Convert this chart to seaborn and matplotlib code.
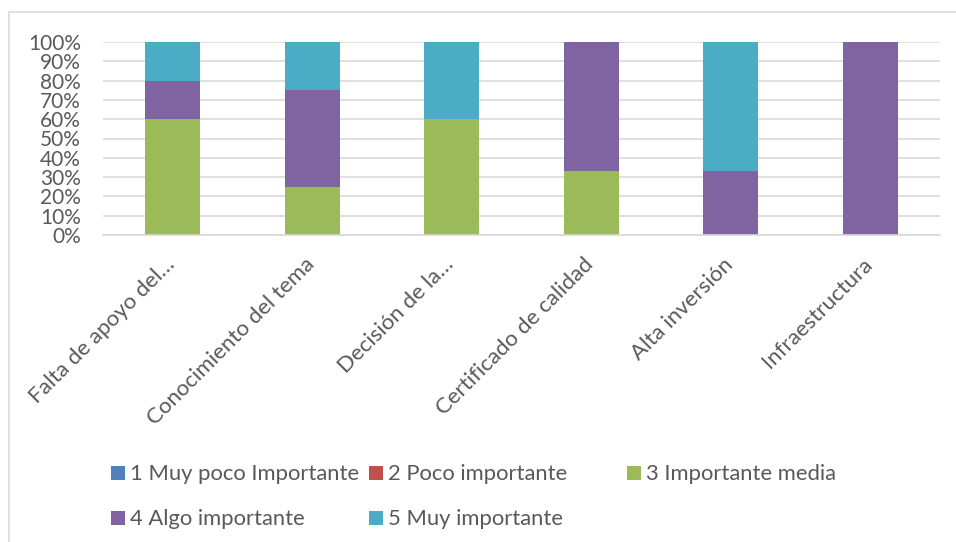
import matplotlib
matplotlib.use("Agg")
import matplotlib.pyplot as plt
import matplotlib.transforms as mtransforms
from matplotlib.patches import Rectangle
import numpy as np
import pandas as pd
import seaborn as sns

categories = ["Falta de apoyo del…", "Conocimiento del tema", "Decisión de la…",
              "Certificado de calidad", "Alta inversión", "Infraestructura"]
series_names = ["1 Muy poco Importante", "2 Poco importante", "3 Importante media",
                "4 Algo importante", "5 Muy importante"]
s1 = [0, 0, 0, 0, 0, 0]
s2 = [0, 0, 0, 0, 0, 0]
s3 = [60, 25, 60, 33.33, 0, 0]
s4 = [20, 50, 0, 66.67, 33.33, 100]
s5 = [20, 25, 40, 0, 66.67, 0]
colors = ["#4F81BD", "#C0504D", "#9BBB59", "#8064A2", "#4BACC6"]
yticks = [0, 10, 20, 30, 40, 50, 60, 70, 80, 90, 100]

sns.set_theme(style="white")
plt.rcParams["font.family"] = ["Lato", "DejaVu Sans"]

W, H = 956, 542
fig = plt.figure(figsize=(W / 100, H / 100), dpi=100)
ax = fig.add_axes([103 / W, 1 - 235 / H, (940 - 103) / W, (235 - 42) / H])

vals = np.array([s1, s2, s3, s4, s5], dtype=float)
tot = vals.sum(axis=0)
pct = vals / tot * 100
cum = np.cumsum(pct, axis=0)

for i in range(4, -1, -1):
    df = pd.DataFrame({"cat": categories, "v": cum[i]})
    sns.barplot(data=df, x="cat", y="v", color=colors[i], saturation=1,
                width=0.395, ax=ax, edgecolor="none", linewidth=0)

ax.set_ylim(0, 100)
ax.set_xlim(-0.5, len(categories) - 0.5)
ax.set_yticks(yticks)
ax.set_yticklabels([f"{t}%" for t in yticks])
ax.yaxis.grid(True, color="#D9D9D9", linewidth=1.2)
ax.set_axisbelow(True)
for s in ["top", "right", "left"]:
    ax.spines[s].set_visible(False)
ax.spines["bottom"].set_color("#D9D9D9")
ax.spines["bottom"].set_linewidth(1.2)
ax.set_xlabel("")
ax.set_ylabel("")
ax.tick_params(axis="y", length=0, pad=16, labelsize=15, labelcolor="#595959")
ax.tick_params(axis="x", length=0, pad=19, labelsize=16, labelcolor="#595959")
offset = mtransforms.ScaledTranslation(-1 / 100, 0, fig.dpi_scale_trans)
for lab in ax.get_xticklabels():
    lab.set_rotation(45)
    lab.set_ha("right")
    lab.set_va("center")
    lab.set_rotation_mode("anchor")
    lab.set_transform(lab.get_transform() + offset)

# figure border
fig.patches.append(Rectangle((9 / W, -0.1), 1.2, 1 - 12 / H + 0.1, transform=fig.transFigure,
                             fill=False, edgecolor="#D9D9D9", linewidth=1.2))

# legend
leg_pos = [(111, 473), (369, 473), (627, 473), (111, 518), (369, 518)]
for name, col, (lx, ly) in zip(series_names, colors, leg_pos):
    fig.patches.append(Rectangle((lx / W, 1 - (ly + 7) / H), 14 / W, 14 / H,
                                 transform=fig.transFigure, facecolor=col, edgecolor="none"))
    fig.text((lx + 19) / W, 1 - (ly + 1) / H, name, fontsize=15.8, color="#595959",
             ha="left", va="center")

fig.savefig("out.png", dpi=100)
